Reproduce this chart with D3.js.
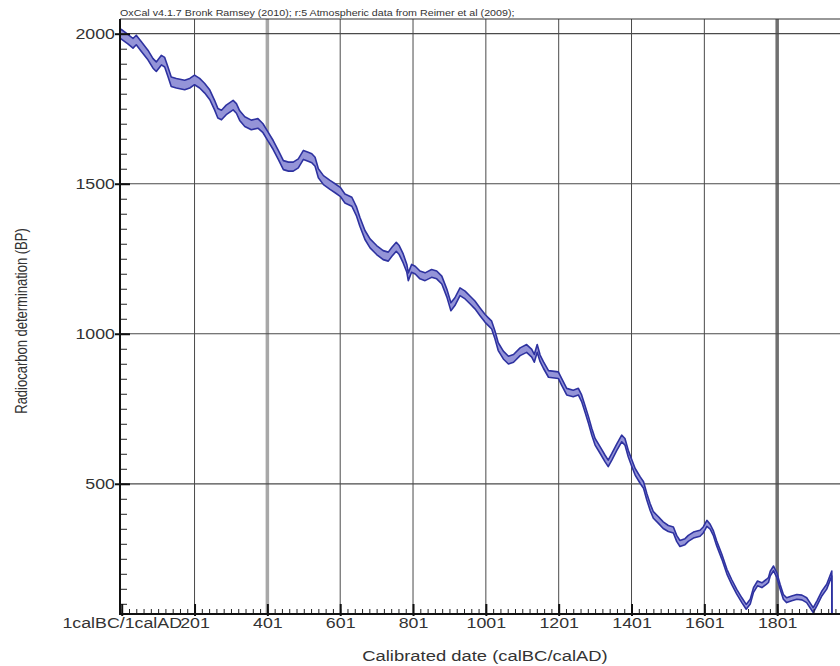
<!DOCTYPE html>
<html>
<head>
<meta charset="utf-8">
<script src="https://cdn.jsdelivr.net/npm/d3@7"></script>
<style>
  body { margin: 0; background: #fff; }
  text { font-family: "Liberation Sans", Arial, sans-serif; }
</style>
</head>
<body>
<div id="chart"></div>
<script>
// calibration curve (IntCal09 style band)
let years = [
    -4, 0, 18, 32, 41, 55, 73, 87, 96, 110,
    119, 128, 137, 151, 174, 188, 201, 215, 229, 243,
    256, 265, 275, 288, 307, 316, 325, 339, 357, 375,
    389, 403, 417, 431, 445, 459, 472, 486, 500, 513,
    523, 532, 541, 555, 573, 587, 601, 614, 633, 646,
    655, 669, 683, 701, 719, 733, 743, 755, 763, 774,
    784, 788, 797, 807, 820, 834, 852, 866, 880, 894,
    905, 916, 930, 944, 958, 971, 985, 999, 1008, 1017,
    1026, 1035, 1049, 1063, 1077, 1095, 1113, 1127, 1134, 1142,
    1150, 1159, 1173, 1200, 1209, 1223, 1241, 1255, 1264, 1273,
    1283, 1292, 1301, 1315, 1328, 1337, 1347, 1361, 1374, 1383,
    1392, 1402, 1411, 1425, 1434, 1443, 1452, 1461, 1475, 1488,
    1502, 1516, 1525, 1534, 1548, 1557, 1571, 1589, 1598, 1608,
    1617, 1626, 1635, 1649, 1663, 1676, 1690, 1704, 1716, 1727,
    1736, 1747, 1759, 1771, 1777, 1782, 1791, 1800, 1809, 1818,
    1827, 1841, 1855, 1869, 1882, 1894, 1900, 1910, 1924, 1937,
    1951, 1952
];
let bp = [
    2000, 1998, 1982, 1968, 1979, 1957, 1929, 1901, 1890, 1912,
    1905, 1873, 1840, 1835, 1829, 1835, 1846, 1835, 1818, 1796,
    1762, 1735, 1729, 1746, 1762, 1751, 1727, 1707, 1696, 1701,
    1685, 1657, 1629, 1596, 1562, 1557, 1557, 1568, 1596, 1590,
    1585, 1573, 1535, 1512, 1496, 1485, 1473, 1451, 1440, 1407,
    1373, 1329, 1301, 1279, 1262, 1257, 1273, 1290, 1279, 1251,
    1218, 1190, 1218, 1212, 1196, 1190, 1201, 1196, 1179, 1135,
    1090, 1107, 1140, 1129, 1112, 1096, 1073, 1051, 1040, 1029,
    996, 957, 929, 912, 918, 940, 951, 935, 918, 951,
    918, 896, 866, 862, 840, 807, 801, 807, 785, 751,
    712, 673, 640, 612, 585, 568, 590, 623, 651, 640,
    601, 568, 540, 512, 496, 457, 423, 396, 379, 362,
    351, 346, 318, 301, 307, 318, 329, 335, 346, 368,
    357, 335, 301, 257, 207, 173, 140, 112, 90, 107,
    146, 168, 162, 173, 179, 201, 218, 196, 157, 123,
    112, 118, 123, 121, 112, 90, 79, 101, 135, 157,
    201, -150
];
let sigma = [
    16, 16, 16, 16, 16, 16, 16, 16, 16, 16,
    16, 16, 16, 16, 16, 16, 16, 16, 16, 16,
    16, 16, 16, 16, 16, 16, 16, 16, 16, 16,
    15, 15, 15, 15, 15, 15, 15, 15, 15, 15,
    15, 15, 15, 15, 15, 15, 15, 15, 15, 15,
    15, 15, 15, 15, 15, 15, 15, 15, 15, 15,
    13, 13, 13, 13, 13, 13, 13, 13, 13, 13,
    13, 13, 13, 13, 13, 13, 13, 13, 13, 13,
    13, 13, 13, 13, 13, 13, 13, 13, 13, 13,
    11, 11, 11, 11, 11, 11, 11, 11, 11, 11,
    11, 11, 11, 11, 11, 11, 11, 11, 11, 11,
    11, 11, 11, 11, 11, 11, 11, 11, 11, 11,
    10, 10, 10, 10, 10, 10, 10, 10, 10, 10,
    8, 8, 8, 8, 8, 8, 8, 8, 8, 8,
    8, 8, 8, 8, 8, 8, 8, 8, 8, 8,
    8, 8, 8, 8, 8, 8, 8, 8, 8, 8,
    8, 8
];

let xTicks = [1, 201, 401, 601, 801, 1001, 1201, 1401, 1601, 1801];
let xTickLabels = ['1calBC/1calAD', '201', '401', '601', '801', '1001', '1201', '1401', '1601', '1801'];
let yTicks = [500, 1000, 1500, 2000];
let titleText = 'OxCal v4.1.7 Bronk Ramsey (2010); r:5 Atmospheric data from Reimer et al (2009);';
let xTitle = 'Calibrated date (calBC/calAD)';
let yTitle = 'Radiocarbon determination (BP)';

let svgWidth = 840;
let svgHeight = 666;
let plotLeft = 120, plotTop = 19, plotRight = 846, plotBottom = 614;
let stretch = 1.27; // the original picture is stretched sideways

let svg = d3.select('#chart').append('svg')
    .attr('width', svgWidth)
    .attr('height', svgHeight)
    .style('display', 'block');

let x = d3.scaleLinear().domain([-3.7, 1990]).range([plotLeft, plotRight]);
let y = d3.scaleLinear().domain([66, 2049]).range([plotBottom, plotTop]);

let data = years.map(function (d, i) {
    return { year: d, bp: bp[i], err: sigma[i] };
});

svg.append('clipPath').attr('id', 'plotclip')
    .append('rect')
    .attr('x', plotLeft).attr('y', plotTop)
    .attr('width', plotRight - plotLeft).attr('height', plotBottom - plotTop);

// grid
let grid = svg.append('g');
grid.selectAll('line.v').data(xTicks.slice(1)).enter().append('line')
    .attr('class', 'v')
    .attr('x1', d => x(d)).attr('x2', d => x(d))
    .attr('y1', plotTop).attr('y2', plotBottom)
    .attr('stroke', d => d == 401 ? '#a8a8a8' : (d == 1801 ? '#707070' : '#4a4a4a'))
    .attr('stroke-width', d => (d == 401 || d == 1801) ? 3.5 : 1);
grid.selectAll('line.h').data(yTicks).enter().append('line')
    .attr('class', 'h')
    .attr('x1', plotLeft).attr('x2', plotRight)
    .attr('y1', d => y(d)).attr('y2', d => y(d))
    .attr('stroke', '#4a4a4a')
    .attr('stroke-width', 1.2);
grid.append('line')
    .attr('x1', plotLeft).attr('x2', plotRight)
    .attr('y1', plotTop).attr('y2', plotTop)
    .attr('stroke', '#333').attr('stroke-width', 1.2);

// curve band
let band = svg.append('g').attr('clip-path', 'url(#plotclip)');
let area = d3.area()
    .x(d => x(d.year))
    .y0(d => y(d.bp - d.err))
    .y1(d => y(d.bp + d.err));
let upper = d3.line().x(d => x(d.year)).y(d => y(d.bp + d.err));
let lower = d3.line().x(d => x(d.year)).y(d => y(d.bp - d.err));
band.append('path')
    .attr('d', area(data))
    .attr('fill', '#9494d8')
    .attr('stroke', 'none');
[upper, lower].forEach(function (gen) {
    band.append('path')
        .attr('d', gen(data))
        .attr('fill', 'none')
        .attr('stroke', '#2e32a0')
        .attr('stroke-width', 1.6)
        .attr('stroke-linejoin', 'round');
});

// minor ticks
svg.append('g')
    .attr('transform', 'translate(0,' + plotBottom + ')')
    .call(d3.axisBottom(x).tickValues(d3.range(1, 1990, 20)).tickSize(-5).tickFormat(''))
    .call(g => g.select('.domain').remove())
    .selectAll('line').attr('stroke', '#222');
svg.append('g')
    .attr('transform', 'translate(' + plotLeft + ',0)')
    .call(d3.axisLeft(y).tickValues(d3.range(100, 2049, 50)).tickSize(-7).tickFormat(''))
    .call(g => g.select('.domain').remove())
    .selectAll('line').attr('stroke', '#222');

// major ticks with labels
let xAxis = svg.append('g')
    .attr('transform', 'translate(0,' + plotBottom + ')')
    .call(d3.axisBottom(x).tickValues(xTicks).tickSize(-10).tickPadding(4)
        .tickFormat((d, i) => xTickLabels[i]));
xAxis.select('.domain').remove();
xAxis.selectAll('line').attr('stroke', '#111').attr('stroke-width', 2).attr('y1', 2);
xAxis.selectAll('text')
    .attr('font-size', 14)
    .attr('font-family', '"Liberation Sans", Arial, sans-serif')
    .attr('fill', '#333')
    .attr('transform', 'scale(' + stretch + ',1)');

let yAxis = svg.append('g')
    .attr('transform', 'translate(' + plotLeft + ',0)')
    .call(d3.axisLeft(y).tickValues(yTicks).tickSize(-10).tickPadding(4).tickFormat(d3.format('d')));
yAxis.select('.domain').remove();
yAxis.selectAll('line').attr('stroke', '#111').attr('stroke-width', 2).attr('x1', -5);
yAxis.selectAll('text')
    .attr('font-size', 14)
    .attr('font-family', '"Liberation Sans", Arial, sans-serif')
    .attr('fill', '#333')
    .attr('transform', 'scale(' + stretch + ',1)');

// axis lines
svg.append('line')
    .attr('x1', plotLeft).attr('x2', plotLeft)
    .attr('y1', plotTop).attr('y2', plotBottom + 1)
    .attr('stroke', '#111').attr('stroke-width', 2);
svg.append('line')
    .attr('x1', plotLeft - 1).attr('x2', svgWidth)
    .attr('y1', plotBottom).attr('y2', plotBottom)
    .attr('stroke', '#111').attr('stroke-width', 2);

// texts
svg.append('text')
    .attr('transform', 'translate(' + plotLeft + ',15.5) scale(1.15,1)')
    .attr('font-size', 9.3)
    .attr('fill', '#333')
    .text(titleText);
svg.append('text')
    .attr('transform', 'translate(485,661) scale(' + stretch + ',1)')
    .attr('text-anchor', 'middle')
    .attr('font-size', 14.5)
    .attr('fill', '#333')
    .text(xTitle);
svg.append('text')
    .attr('transform', 'translate(27,321) scale(' + stretch + ',1) rotate(-90)')
    .attr('text-anchor', 'middle')
    .attr('font-size', 13)
    .attr('fill', '#333')
    .text(yTitle);
</script>
</body>
</html>
